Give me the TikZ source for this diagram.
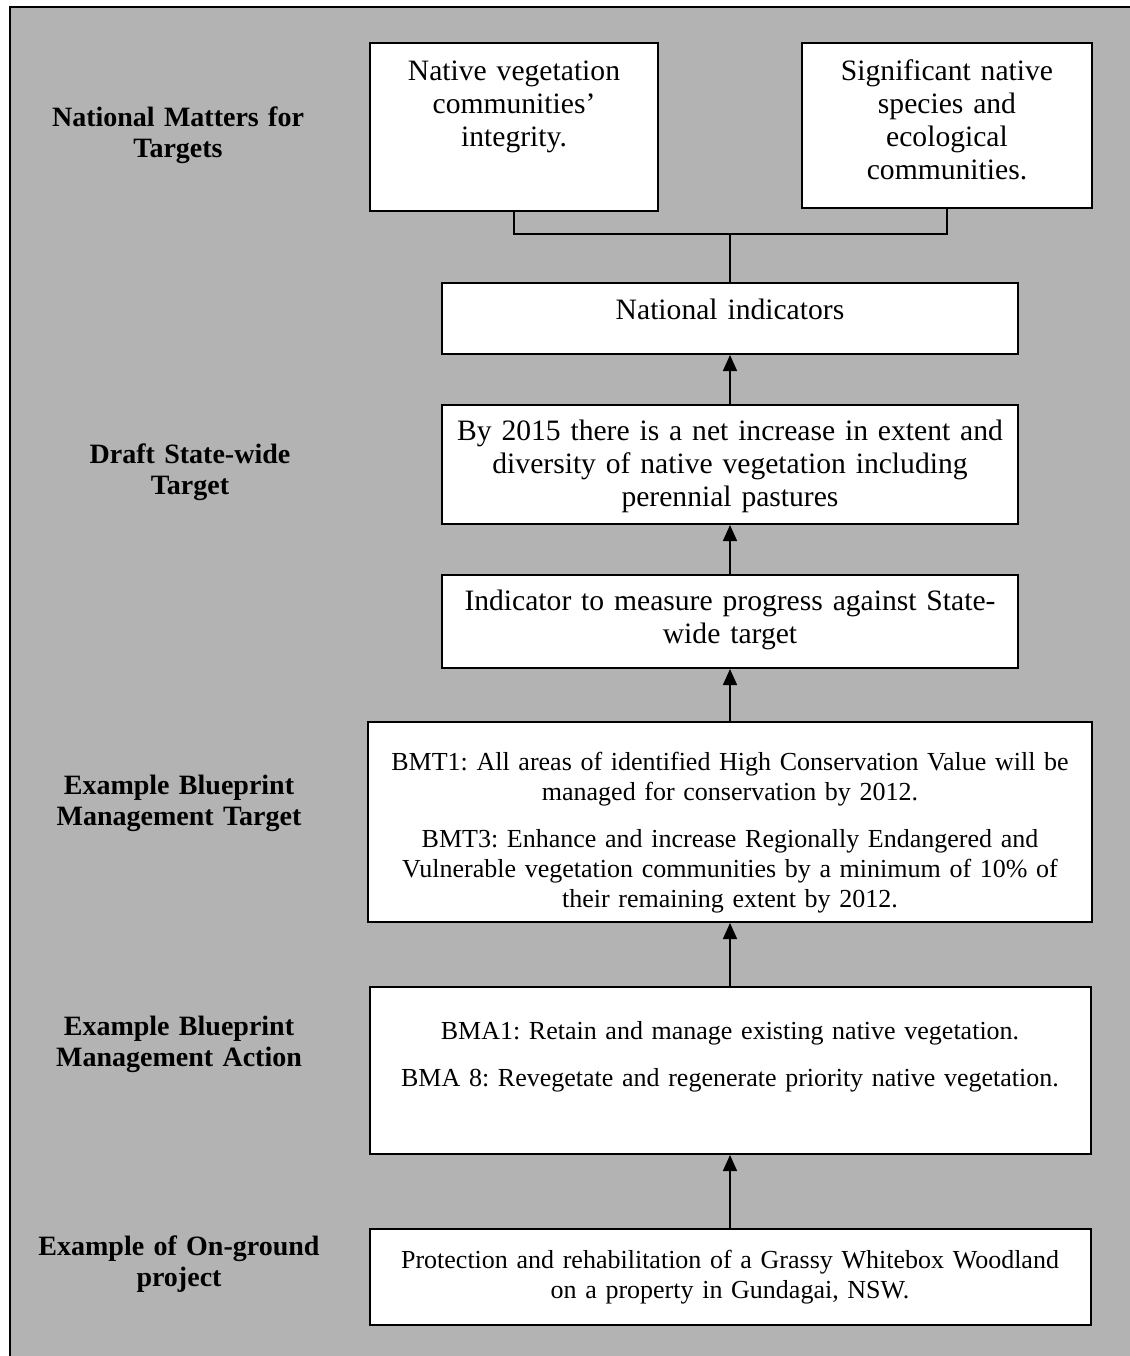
\documentclass[tikz,border=0pt]{standalone}
\usepackage{fontspec}
\setmainfont{Liberation Serif}
\usepackage{tikz}
\usetikzlibrary{positioning,arrows.meta}
\frenchspacing

\definecolor{panelgray}{RGB}{179,179,179}

\begin{document}
\begin{tikzpicture}[x=1pt, y=1pt,
                    panelbox/.style={rectangle, draw=black, line width=1pt, fill=white, inner sep=0pt, align=center},
                    bigtext/.style={font=\fontsize{14.8pt}{16.5pt}\selectfont},
                    smalltext/.style={font=\fontsize{13pt}{15pt}\selectfont},
                    rowlabel/.style={font=\bfseries\fontsize{14pt}{15.5pt}\selectfont, align=center, text width=150pt, inner sep=0pt, anchor=base},
                    flowarrow/.style={line width=0.8pt, -{Triangle[width=7pt,length=8pt]}},
                    joinline/.style={line width=0.8pt}]
                    \useasboundingbox (0,0) rectangle (565,-678);
                    \fill[panelgray] (5,-3.5) rectangle (566,-679);
                    \draw[line width=1pt] (5,-679) |- (566,-3.5);

                    % national matters
                    \node[panelbox, bigtext, text width=144pt, text height=18.5pt, text depth=65.5pt, anchor=north] (veg) at (257,-21) {Native vegetation\\ communities’\\ integrity.};
                    \node[panelbox, bigtext, text width=145pt, text height=18.5pt, text depth=64pt, anchor=north] (species) at (473.5,-21) {Significant native\\ species and\\ ecological\\ communities.};
                    \node[panelbox, bigtext, text width=288pt, text height=18pt, text depth=17.5pt, anchor=north] (natind) at (365,-141) {National indicators};
                    \coordinate (join) at (365,-117);

                    % chain of targets
                    \node[panelbox, bigtext, text width=288pt, text height=17.5pt, text depth=42pt] (draft) [below=24.5pt of natind] {By 2015 there is a net increase in extent and\\ diversity of native vegetation including\\ perennial pastures};
                    \node[panelbox, bigtext, text width=288pt, text height=17.5pt, text depth=29pt] (stateind) [below=24.5pt of draft] {Indicator to measure progress against State-\\ wide target};
                    \node[panelbox, smalltext, text width=362pt, text height=24pt, text depth=76pt] (bmt) [below=26pt of stateind] {BMT1: All areas of identified High Conservation Value will be\\ managed for conservation by 2012.\\[8.5pt] BMT3: Enhance and increase Regionally Endangered and\\ Vulnerable vegetation communities by a minimum of 10\% of\\ their remaining extent by 2012.};
                    \node[panelbox, smalltext, text width=360.5pt, text height=26pt, text depth=57.5pt] (bma) [below=31.5pt of bmt] {BMA1: Retain and manage existing native vegetation.\\[8.5pt] BMA 8: Revegetate and regenerate priority native vegetation.};
                    \node[panelbox, smalltext, text width=360.5pt, text height=19.5pt, text depth=28.5pt] (ground) [below=36.5pt of bma] {Protection and rehabilitation of a Grassy Whitebox Woodland\\ on a property in Gundagai, NSW.};

                    % row labels
                    \node[rowlabel] (lnat) at (89,-63) {National Matters for\\ Targets};
                    \node[rowlabel] (ldraft) at (95,-231.5) {Draft State-wide\\ Target};
                    \node[rowlabel] (lbmt) at (89.5,-397) {Example Blueprint\\ Management Target};
                    \node[rowlabel] (lbma) at (89.5,-517.5) {Example Blueprint\\ Management Action};
                    \node[rowlabel] (lground) at (89.5,-627.5) {Example of On-ground\\ project};

                    \draw[joinline] (veg.south) |- (join) -| (species.south);
                    \draw[joinline] (join) -- (natind.north);
                    \draw[flowarrow] (draft.north) -- (natind.south);
                    \draw[flowarrow] (stateind.north) -- (draft.south);
                    \draw[flowarrow] (bmt.north) -- (stateind.south);
                    \draw[flowarrow] (bma.north) -- (bmt.south);
                    \draw[flowarrow] (ground.north) -- (bma.south);
                    \end{tikzpicture}
\end{document}
